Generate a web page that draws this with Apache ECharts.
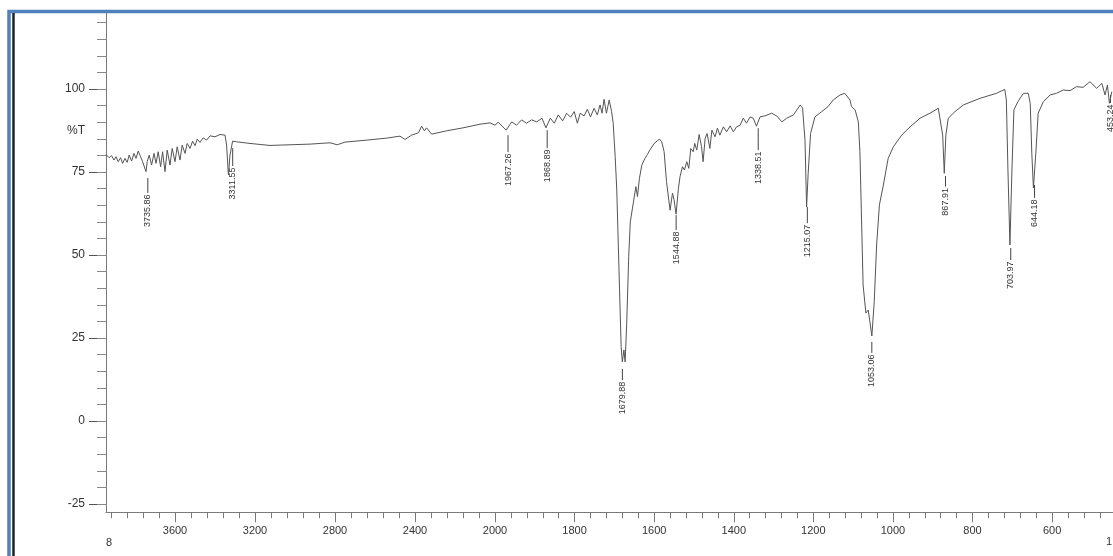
<!DOCTYPE html>
<html>
<head>
<meta charset="utf-8">
<script src="https://cdn.jsdelivr.net/npm/echarts@6/dist/echarts.min.js"></script>
<style>
html,body{margin:0;padding:0;background:#fff;}
#chart{width:1113px;height:556px;}
</style>
</head>
<body>
<div id="chart"></div>
<script>
// ---- data (wavenumber in 1/cm, %T) ----
const wavenumbers = [
3945,3929,3917,3905,3895,3884,3872,3862,3850,3839,
3829,3817,3805,3795,3784,3772,3762,3745,3739,3729,
3717,3705,3695,3684,3672,3662,3650,3639,3625,3614,
3600,3589,3575,3564,3550,3539,3525,3512,3500,3489,
3475,3459,3442,3425,3400,3375,3350,3342,3333,3325,
3312,3292,3225,3125,3025,2925,2825,2789,2750,2642,
2542,2475,2450,2417,2383,2367,2353,2342,2317,2242,
2160,2075,2025,2000,
1992,1972,1958,1946,1933,1921,1908,1895,1882,1872,
1861,1851,1841,1830,1820,1810,1801,1793,1786,1776,
1768,1760,1751,1743,1736,1731,1726,1720,1713,1707,
1703,1698,1694,1687,1683,1680,1676,1673,1669,1664,
1660,1652,1646,1642,1637,1631,1623,1617,1611,1600,
1587,1581,1575,1569,1560,1554,1550,1545,1539,1535,
1529,1524,1518,1513,1508,1502,1498,1493,1487,1481,
1477,1472,1467,1460,1455,1447,1441,1435,1426,1418,
1409,1401,1393,1384,1376,1368,1359,1351,1343,1334,
1322,1305,1292,1279,1267,1250,1233,1227,1221,1217,
1213,1207,1196,1179,1163,1150,1133,1121,1108,1104,
1095,1087,1083,1079,1075,1068,1062,1053,1047,1041,
1034,1024,1012,999,978,957,932,907,886,875,
871,867,861,844,823,781,740,719,715,711,
706,701,696,686,672,660,655,651,647,641,
635,622,605,589,572,555,539,522,505,488,
475,467,461,456,450
];
const transmittance = [
80.3,79.3,79.9,78.6,79.6,78.1,79.3,77.6,79.1,77.9,
80.1,78.3,80.6,79.1,81.3,79.6,78.1,75.1,78.1,80.1,
77.1,80.6,77.6,81.1,76.6,81.1,75.1,81.6,77.1,82.1,
78.1,82.6,78.6,83.1,80.6,83.6,82.1,84.3,82.9,84.9,
83.9,85.3,84.6,85.9,85.6,86.3,86.1,83.1,74.1,80.1,
84.3,84.1,83.6,83.0,83.2,83.4,83.8,83.2,84.0,84.6,
85.2,85.8,84.8,86.1,86.8,88.8,87.4,88.3,86.4,87.4,
88.3,89.4,89.8,89.1,
90.0,87.6,90.1,89.1,90.7,89.7,90.7,90.1,91.2,88.3,
91.2,89.7,92.2,90.4,92.7,91.5,93.2,89.7,92.7,91.9,
93.9,91.6,94.2,92.2,95.2,92.7,96.9,92.7,96.7,93.2,
89.7,79.6,69.6,39.5,22.4,17.8,21.4,17.8,29.4,49.5,
60.0,66.0,70.6,67.6,73.1,77.1,79.1,80.3,81.6,83.6,
84.9,84.1,81.1,72.1,63.5,68.6,66.6,62.3,70.1,73.6,
76.6,75.6,78.1,76.1,82.1,81.1,83.6,81.6,86.3,82.6,
78.1,85.1,86.6,82.1,87.6,85.6,88.2,86.1,88.6,87.1,
88.9,87.1,88.6,89.1,91.2,89.7,91.6,91.2,88.8,91.6,
91.9,92.7,91.9,90.1,91.2,92.2,95.2,94.2,84.6,64.5,
74.6,86.6,91.6,93.2,94.7,96.7,98.2,98.7,96.7,94.7,
93.7,90.1,81.1,61.1,41.0,32.5,33.4,25.6,35.9,53.0,
65.1,71.1,79.1,82.6,86.1,88.6,91.2,92.7,94.2,86.1,
74.6,86.1,91.2,93.2,95.2,97.2,98.7,99.9,96.7,75.6,
53.0,75.6,93.7,96.2,98.7,98.7,95.7,80.6,70.2,80.6,
92.7,96.2,98.2,98.7,99.7,99.5,100.7,100.5,102.2,100.2,
101.7,98.2,101.2,95.7,99.2
];
// peak annotations
const peakLabels      = ['3735.86','3311.55','1967.26','1868.89','1679.88','1544.88','1338.51','1215.07','1053.06','867.91','703.97','644.18','453.24'];
const peakWavenumbers = [3735.86,3311.55,1967.26,1868.89,1679.88,1544.88,1338.51,1215.07,1053.06,867.91,703.97,644.18,453.24];
const peakLineTop     = [73.2,82.2,86.1,87.6,15.7,62.0,88.2,64.5,23.8,73.8,52.1,71.1,98.2];
const peakLineBottom  = [68.7,76.8,81.0,82.2,12.3,57.5,81.6,59.6,20.5,70.6,48.5,67.2,95.8];
// axis ticks
const yMajorTicks = [-25,0,25,50,75,100];
const yLabelValues = [-25,0,25,50,75,87.5,100];
const yMinorTicks = [-25,-20,-15,-10,-5,0,5,10,15,20,25,30,35,40,45,50,55,60,65,70,75,80,85,90,95,100,105,110,115,120];
const xLeftMajor = [3600,3200,2800,2400];
const xRightMajor = [2000,1800,1600,1400,1200,1000,800,600];
const xLeftMinor = [3920,3840,3760,3680,3600,3520,3440,3360,3280,3200,3120,3040,2960,2880,2800,2720,2640,2560,2480,2400,2320,2240,2160,2080];
const xRightMinor = [];
for (let v = 1960; v >= 480; v -= 40) xRightMinor.push(v);

// ---- build ----
const leftData = [], rightData = [];
for (let i = 0; i < wavenumbers.length; i++) {
  if (wavenumbers[i] >= 2000) leftData.push([wavenumbers[i], transmittance[i]]);
  if (wavenumbers[i] <= 2000) rightData.push([wavenumbers[i], transmittance[i]]);
}
const leftPeaks = [], rightPeaks = [];
for (let i = 0; i < peakLabels.length; i++) {
  const item = [peakWavenumbers[i], peakLineTop[i], peakLineBottom[i], i];
  (peakWavenumbers[i] > 2000 ? leftPeaks : rightPeaks).push(item);
}
const FONT = "'Liberation Sans', Arial, sans-serif";
const TXT = '#333';
const AXC = '#7a7a7a';
const plain = v => String(v);

function renderPeak(params, api) {
  const w = api.value(0);
  const p1 = api.coord([w, api.value(1)]);
  const p2 = api.coord([w, api.value(2)]);
  const idx = api.value(3);
  return {
    type: 'group',
    children: [
      {type: 'line', shape: {x1: p1[0], y1: p1[1], x2: p2[0], y2: p2[1]}, style: {stroke: '#444', lineWidth: 1}},
      {type: 'text', x: p2[0], y: p2[1] + 1.5, rotation: Math.PI / 2,
       style: {text: peakLabels[idx], fill: TXT, font: '9px ' + FONT, align: 'right', verticalAlign: 'middle'}}
    ]
  };
}

const yMin = -27.5, yMax = 123;
const gridTop = 12.64, gridH = 499.66;

function xAxisDef(grid, min, max, major, isMajor, ticks) {
  return {
    gridIndex: grid, type: 'value', position: 'bottom', inverse: true, min: min, max: max,
    axisLine: {show: isMajor, onZero: false, lineStyle: {color: AXC, width: 1}},
    axisTick: {show: true, length: isMajor ? 10 : 6, customValues: ticks, lineStyle: {color: AXC}},
    axisLabel: isMajor ? {show: true, customValues: major, margin: 13, color: TXT, fontSize: 11, fontFamily: FONT, formatter: plain}
                       : {show: false},
    splitLine: {show: false}
  };
}

const option = {
  backgroundColor: '#fff',
  animation: false,
  grid: [
    {left: 106, top: gridTop, width: 389, height: gridH},
    {left: 495, top: gridTop, width: 618, height: gridH}
  ],
  xAxis: [
    xAxisDef(0, 2000, 3945, xLeftMajor, true, xLeftMajor),
    xAxisDef(0, 2000, 3945, xLeftMajor, false, xLeftMinor),
    xAxisDef(1, 447, 2000, xRightMajor, true, xRightMajor),
    xAxisDef(1, 447, 2000, xRightMajor, false, xRightMinor)
  ],
  yAxis: [
    {gridIndex: 0, type: 'value', position: 'left', min: yMin, max: yMax,
     axisLine: {show: true, onZero: false, lineStyle: {color: AXC, width: 1}},
     axisTick: {show: true, length: 17, customValues: yMajorTicks, lineStyle: {color: '#555'}},
     axisLabel: {show: true, customValues: yLabelValues, margin: 21, color: TXT, fontSize: 12, fontFamily: FONT,
                 formatter: v => (v === 87.5 ? '%T' : String(v))},
     splitLine: {show: false}},
    {gridIndex: 0, type: 'value', position: 'left', min: yMin, max: yMax,
     axisLine: {show: false, onZero: false},
     axisTick: {show: true, length: 9, customValues: yMinorTicks, lineStyle: {color: '#888'}},
     axisLabel: {show: false}, splitLine: {show: false}},
    {gridIndex: 1, type: 'value', min: yMin, max: yMax, show: false}
  ],
  graphic: [
    {type: 'rect', silent: true, shape: {x: 9, y: 11.5, width: 1200, height: 700},
     style: {fill: 'none', stroke: '#4f81bd', lineWidth: 3.5}},
    {type: 'line', silent: true, shape: {x1: 13.5, y1: 13, x2: 13.5, y2: 556},
     style: {stroke: '#222', lineWidth: 2.5}},
    {type: 'text', silent: true, x: 106, y: 543,
     style: {text: '8', fill: TXT, font: '11px ' + FONT, align: 'left', verticalAlign: 'middle'}},
    {type: 'text', silent: true, x: 1106, y: 542,
     style: {text: '1.', fill: TXT, font: '11px ' + FONT, align: 'left', verticalAlign: 'middle'}}
  ],
  series: [
    {type: 'line', xAxisIndex: 0, yAxisIndex: 0, data: leftData, showSymbol: false, symbol: 'none',
     lineStyle: {color: '#555', width: 1}, silent: true},
    {type: 'line', xAxisIndex: 2, yAxisIndex: 2, data: rightData, showSymbol: false, symbol: 'none',
     lineStyle: {color: '#555', width: 1}, silent: true},
    {type: 'custom', xAxisIndex: 0, yAxisIndex: 0, data: leftPeaks, renderItem: renderPeak, silent: true,
     encode: {x: 0, y: 1}},
    {type: 'custom', xAxisIndex: 2, yAxisIndex: 2, data: rightPeaks, renderItem: renderPeak, silent: true,
     encode: {x: 0, y: 1}}
  ]
};
const chart = echarts.init(document.getElementById('chart'), null, {renderer: 'canvas'});
chart.setOption(option);
</script>
</body>
</html>
